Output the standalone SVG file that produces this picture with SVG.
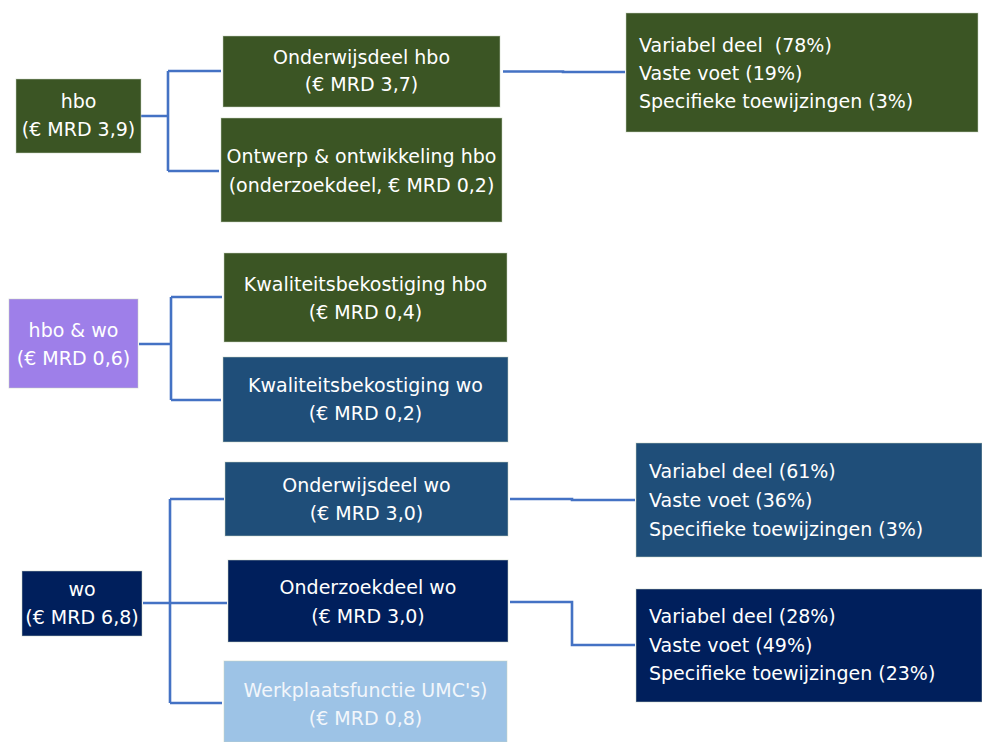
<svg xmlns="http://www.w3.org/2000/svg" width="982" height="742" viewBox="0 0 982 742">
<style>
.box{stroke:#c9d3c0;stroke-width:1;stroke-opacity:0.5}
.g{fill:#3b5524}
.p{fill:#9e7fe9}
.b{fill:#1f4e79}
.n{fill:#001f5c}
.l{fill:#9dc3e6}
text{font-family:"DejaVu Sans","Verdana",sans-serif;font-size:19px;fill:#ffffff;white-space:pre}
.c{text-anchor:middle}
.lt{fill:#f2f6fb}
.con path{fill:none;stroke:#4472c4;stroke-width:2.6}
</style>
<rect width="982" height="742" fill="#ffffff"/>
<g class="con">
<path d="M141,116 H168 M168,71 V171 M168,71 H221 M168,171 H219"/>
<path d="M503,71.5 H563 V72 H625"/>
<path d="M139,344 H171 M171,297 V400 M171,297 H222 M171,400 H221"/>
<path d="M143,603 H170 M170,499 V703 M170,499 H224 M170,603 H227 M170,703 H222"/>
<path d="M510,499 H572 V500 H635"/>
<path d="M510,602 H572 V645 H635"/>
</g>
<g id="hbo"><rect class="box g" x="16" y="79" width="125" height="74"/><text class="c" x="78.5" y="108">hbo</text><text class="c" x="78.5" y="136">(€ MRD 3,9)</text></g>
<g id="onderwijsdeel-hbo"><rect class="box g" x="223" y="36" width="277" height="71"/><text class="c" x="361.5" y="64">Onderwijsdeel hbo</text><text class="c" x="361.5" y="91">(€ MRD 3,7)</text></g>
<g id="ontwerp-hbo"><rect class="box g" x="221" y="118" width="281" height="104"/><text class="c" x="361.5" y="163">Ontwerp &amp; ontwikkeling hbo</text><text class="c" x="361.5" y="192">(onderzoekdeel, € MRD 0,2)</text></g>
<g id="verdeling-hbo"><rect class="box g" x="626" y="13" width="352" height="119"/><text x="639" y="52" xml:space="preserve">Variabel deel  (78%)</text><text x="639" y="80">Vaste voet (19%)</text><text x="639" y="108">Specifieke toewijzingen (3%)</text></g>
<g id="hbo-wo"><rect class="box p" x="9" y="299" width="129" height="89"/><text class="c" x="73.5" y="337">hbo &amp; wo</text><text class="c" x="73.5" y="365">(€ MRD 0,6)</text></g>
<g id="kwaliteit-hbo"><rect class="box g" x="224" y="253" width="283" height="89"/><text class="c" x="365.5" y="291">Kwaliteitsbekostiging hbo</text><text class="c" x="365.5" y="319">(€ MRD 0,4)</text></g>
<g id="kwaliteit-wo"><rect class="box b" x="223" y="357" width="285" height="85"/><text class="c" x="365.5" y="392">Kwaliteitsbekostiging wo</text><text class="c" x="365.5" y="420">(€ MRD 0,2)</text></g>
<g id="wo"><rect class="box n" x="22" y="571" width="120" height="65"/><text class="c" x="82" y="596">wo</text><text class="c" x="82" y="624">(€ MRD 6,8)</text></g>
<g id="onderwijsdeel-wo"><rect class="box b" x="225" y="462" width="283" height="74"/><text class="c" x="366.5" y="492">Onderwijsdeel wo</text><text class="c" x="366.5" y="520">(€ MRD 3,0)</text></g>
<g id="onderzoekdeel-wo"><rect class="box n" x="228" y="560" width="280" height="82"/><text class="c" x="368" y="594">Onderzoekdeel wo</text><text class="c" x="368" y="623">(€ MRD 3,0)</text></g>
<g id="werkplaats-umc"><rect class="box l" x="224" y="661" width="283" height="81"/><text class="c lt" x="365.5" y="697">Werkplaatsfunctie UMC's)</text><text class="c lt" x="365.5" y="725">(€ MRD 0,8)</text></g>
<g id="verdeling-wo-onderwijs"><rect class="box b" x="636" y="443" width="346" height="114"/><text x="649" y="478">Variabel deel (61%)</text><text x="649" y="507">Vaste voet (36%)</text><text x="649" y="536">Specifieke toewijzingen (3%)</text></g>
<g id="verdeling-wo-onderzoek"><rect class="box n" x="636" y="589" width="346" height="113"/><text x="649" y="623">Variabel deel (28%)</text><text x="649" y="652">Vaste voet (49%)</text><text x="649" y="680">Specifieke toewijzingen (23%)</text></g>
</svg>
